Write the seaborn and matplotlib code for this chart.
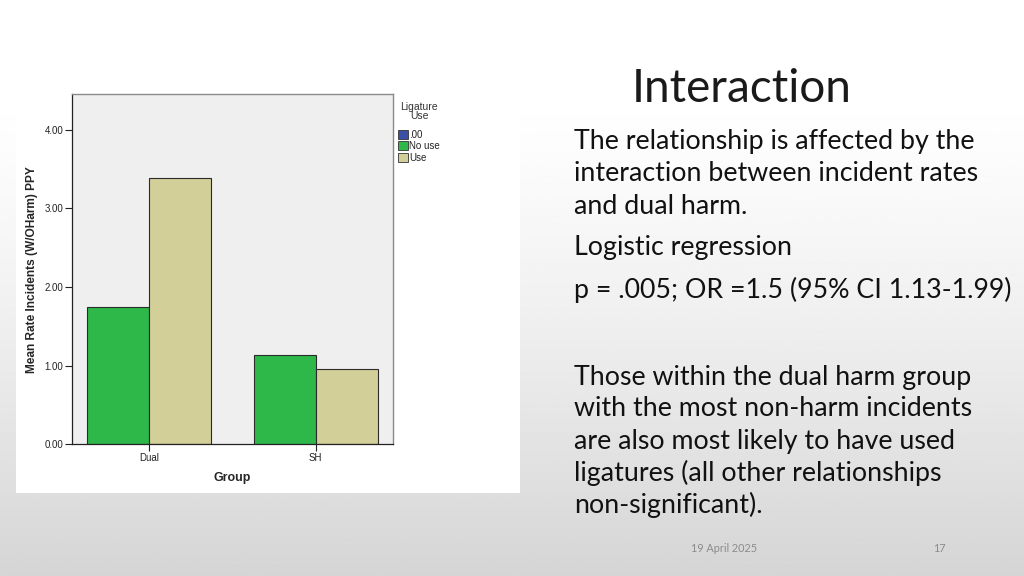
import numpy as np
import pandas as pd
import seaborn as sns
import matplotlib
matplotlib.use('Agg')
import matplotlib.pyplot as plt
from matplotlib.patches import Patch, Rectangle

# Data
groups = ['Dual', 'SH']
ligature_levels = ['.00', 'No use', 'Use']
no_use_means = [1.74, 1.14]
use_means = [3.385, 0.955]
y_ticks = [0.0, 1.0, 2.0, 3.0, 4.0]

title = 'Interaction'
body_top = ['The relationship is affected by the',
            'interaction between incident rates',
            'and dual harm.']
body_mid = ['Logistic regression',
            'p = .005; OR =1.5 (95% CI 1.13-1.99)']
body_bottom = ['Those within the dual harm group',
               'with the most non-harm incidents',
               'are also most likely to have used',
               'ligatures (all other relationships',
               'non-significant).']
footer_date = '19 April 2025'
footer_page = '17'

colors = {'.00': '#3a4fa6', 'No use': '#2eb84a', 'Use': '#d3cf98'}

df = pd.DataFrame({
    'Group': groups * 2,
    'Ligature': ['No use'] * len(groups) + ['Use'] * len(groups),
    'Rate': no_use_means + use_means,
})

sns.set_theme(style='white')
plt.rcParams['font.family'] = ['Liberation Sans', 'DejaVu Sans']

fig = plt.figure(figsize=(10.24, 5.76), dpi=100)

# slide background: white fading to light grey towards the bottom
bg = fig.add_axes([0, 0, 1, 1], zorder=-10)
t = np.linspace(0, 1, 300)[:, None]
shade = 1 - 0.165 * np.clip((t - 0.15) / 0.85, 0, 1) ** 1.3
bg.imshow(np.repeat(shade, 2, axis=1), cmap='gray', vmin=0, vmax=1,
          aspect='auto', extent=[0, 1, 0, 1], interpolation='bilinear')
bg.set_axis_off()

# white panel behind the pasted chart
fig.patches.append(Rectangle((16 / 1024, 1 - 493 / 576), (520 - 16) / 1024, (493 - 88) / 576,
                             transform=fig.transFigure, facecolor='white', edgecolor='none',
                             zorder=-5))

ax = fig.add_axes([71.7 / 1024, 1 - 444.3 / 576, (393 - 71.7) / 1024, (444.3 - 94.3) / 576])
ax.set_facecolor('#efefef')
sns.barplot(data=df, x='Group', y='Rate', hue='Ligature', hue_order=['No use', 'Use'],
            palette=[colors['No use'], colors['Use']], width=0.745, saturation=1,
            edgecolor='#2b2b2b', linewidth=0.8, legend=False, ax=ax)
ax.set_xlim(-0.466, 1.465)
ax.set_ylim(0, 4.45)
ax.set_yticks(y_ticks)
ax.set_yticklabels([f'{v:.2f}' for v in y_ticks], fontsize=7, color='#222222')
ax.tick_params(axis='x', labelsize=7, labelcolor='#222222')
ax.tick_params(axis='both', direction='out', length=5, width=0.8, color='#222222',
               bottom=True, left=True, pad=1)
for side in ['top', 'right']:
    ax.spines[side].set_color('#8a8a8a')
    ax.spines[side].set_linewidth(1.0)
for side in ['left', 'bottom']:
    ax.spines[side].set_color('#222222')
    ax.spines[side].set_linewidth(0.9)
ax.set_xlabel('Group', fontsize=9, fontweight='bold', labelpad=7)
ax.set_ylabel('Mean Rate Incidents (W/OHarm) PPY', fontsize=8.6, fontweight='bold', labelpad=5)

handles = [Patch(facecolor=colors[k], edgecolor='#333333', linewidth=0.6) for k in ligature_levels]
leg = ax.legend(handles, ligature_levels, title='Ligature\nUse', loc='upper left',
                bbox_to_anchor=(1.005, 0.99), frameon=False, fontsize=7, title_fontsize=7.5,
                handlelength=1.0, handleheight=1.0, handletextpad=0.1, labelspacing=0.15,
                borderaxespad=0.2, borderpad=0.2)
leg.get_title().set_color('#333333')
leg.get_title().set_multialignment('center')
leg.get_title().set_linespacing(0.95)
leg._legend_box.sep = 6
for txt in leg.get_texts():
    txt.set_color('#222222')

# slide text
slide_font = ['Lato', 'DejaVu Sans']
fig.text(742 / 1024, 1 - 89 / 576, title, ha='center', va='center', fontsize=33,
         family=slide_font, fontweight='normal', color='#1a1a1a')

def put_lines(lines, y0, step):
    for i, line in enumerate(lines):
        fig.text(574 / 1024, 1 - (y0 + i * step) / 576, line, ha='left', va='center',
                 fontsize=19.3, family=slide_font, color='#111111')

put_lines(body_top, 141, 32.5)
put_lines(body_mid, 248, 42)
put_lines(body_bottom, 377, 32)

fig.text(724 / 1024, 1 - 549 / 576, footer_date, ha='center', va='center', fontsize=7.8,
         family=slide_font, color='#8c8c8c')
fig.text(939 / 1024, 1 - 549 / 576, footer_page, ha='center', va='center', fontsize=7.8,
         family=slide_font, color='#8c8c8c')

fig.savefig('out.png', dpi=100)
